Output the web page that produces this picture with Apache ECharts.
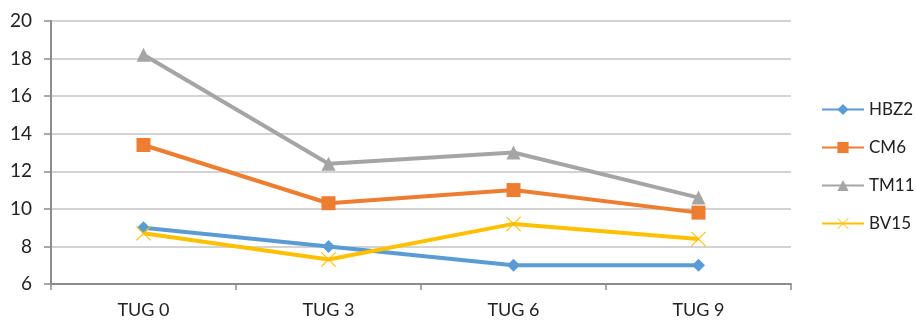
<!DOCTYPE html>
<html><head><meta charset="utf-8">
<script src="https://cdn.jsdelivr.net/npm/echarts@6/dist/echarts.min.js"></script>
<style>html,body{margin:0;padding:0;background:#fff}#c{width:916px;height:320px}</style>
</head><body><div id="c"></div>
<script>
var categories = ['TUG 0', 'TUG 3', 'TUG 6', 'TUG 9'];
var HBZ2 = [9, 8, 7, 7];
var CM6 = [13.4, 10.3, 11.0, 9.8];
var TM11 = [18.2, 12.4, 13.0, 10.6];
var BV15 = [8.7, 7.3, 9.2, 8.4];
var yTicks = [6, 8, 10, 12, 14, 16, 18, 20];

var X_PATH = 'path://M0,1L1,0L10,9L19,0L20,1L11,10L20,19L19,20L10,11L1,20L0,19L9,10Z';
var font = 'Lato, "Open Sans", sans-serif';
function mk(name, data, color, symbol, size) {
  return {
    name: name, type: 'line', data: data,
    symbol: symbol, symbolSize: size,
    lineStyle: {color: color, width: 4},
    itemStyle: {color: color},
    emphasis: {disabled: true},
    z: 3
  };
}
var chart = echarts.init(document.getElementById('c'), null, {renderer: 'canvas'});
chart.setOption({
  animation: false,
  grid: {left: 51, right: 125, top: 21, bottom: 36},
  legend: {
    orient: 'vertical', left: 821, top: 101, padding: 0,
    itemWidth: 42, itemHeight: 14, itemGap: 21,
    textStyle: {fontFamily: font, fontSize: 17, lineHeight: 17, color: '#222'},
    data: ['HBZ2', 'CM6', 'TM11', 'BV15']
  },
  xAxis: {
    type: 'category', data: categories, boundaryGap: true,
    axisLine: {lineStyle: {color: '#8c8c8c', width: 2}},
    axisTick: {show: true, length: 6, lineStyle: {color: '#8c8c8c', width: 1.5}},
    axisLabel: {fontFamily: font, fontSize: 18, color: '#222', margin: 17}
  },
  yAxis: {
    type: 'value', min: yTicks[0], max: yTicks[yTicks.length - 1], interval: 2,
    axisLine: {show: true, lineStyle: {color: '#8c8c8c', width: 2}},
    axisTick: {show: true, length: 7, lineStyle: {color: '#8c8c8c', width: 1.5}},
    axisLabel: {fontFamily: font, fontSize: 19, color: '#222', margin: 19},
    splitLine: {lineStyle: {color: '#c4c4c4', width: 1.5}}
  },
  series: [
    mk('HBZ2', HBZ2, '#5B9BD5', 'diamond', 13),
    mk('CM6', CM6, '#ED7D31', 'rect', 14),
    mk('TM11', TM11, '#A5A5A5', 'triangle', 14),
    mk('BV15', BV15, '#FFC000', X_PATH, 15)
  ]
});
</script></body></html>
